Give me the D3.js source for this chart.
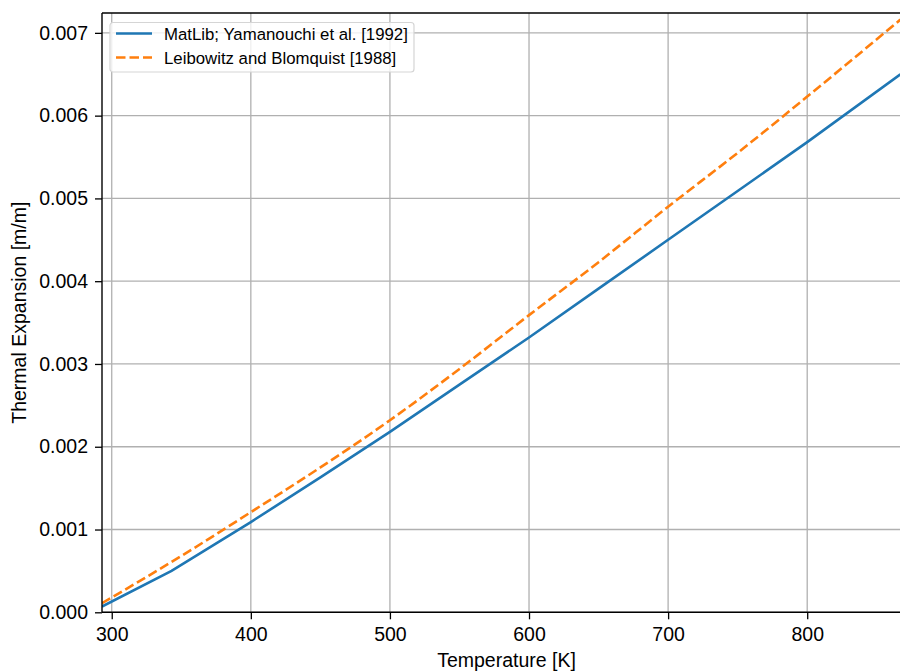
<!DOCTYPE html>
<html>
<head>
<meta charset="utf-8">
<script src="https://cdn.jsdelivr.net/npm/d3@7"></script>
<style>
  body { margin: 0; background: #fff; }
  text { font-family: "Liberation Sans", Arial, sans-serif; }
</style>
</head>
<body>
<div id="chart"></div>
<script>
  // temperatures [K] and thermal expansion [m/m]
  var matlibT = [293, 343, 400, 450, 500, 550, 600, 650, 700, 750, 800, 867];
  var matlibE = [0.00007, 0.0005, 0.00109, 0.00163, 0.00218, 0.00275, 0.00332, 0.00391, 0.0045, 0.00509, 0.00568, 0.0065];

  var leibT = [293, 350, 400, 450, 500, 550, 600, 650, 700, 750, 800, 867];
  var leibE = [0.00011, 0.00068, 0.00121, 0.00175, 0.00232, 0.00294, 0.00359, 0.00423, 0.0049, 0.00555, 0.00623, 0.00716];

  var xTicks = [300, 400, 500, 600, 700, 800];
  var yTicks = [0, 0.001, 0.002, 0.003, 0.004, 0.005, 0.006, 0.007];

  var seriesNames = ["MatLib; Yamanouchi et al. [1992]", "Leibowitz and Blomquist [1988]"];
  var seriesColors = ["#1f77b4", "#ff7f0e"];

  var w = 900, h = 671;
  var padL = 102, padT = 13, padB = 612.3, padR = 900.4;

  var svg = d3.select("#chart").append("svg")
      .attr("width", w).attr("height", h);

  var xScale = d3.scaleLinear().domain([293, 867]).range([padL, padR]);
  var yScale = d3.scaleLinear().domain([0, 0.00724]).range([padB, padT]);

  svg.append("clipPath").attr("id", "clip")
    .append("rect").attr("x", padL).attr("y", padT)
    .attr("width", padR - padL).attr("height", padB - padT);

  // grid
  var grid = svg.append("g");
  grid.selectAll(".gx").data(xTicks).enter().append("line")
    .attr("x1", d => xScale(d)).attr("x2", d => xScale(d))
    .attr("y1", padT).attr("y2", padB)
    .attr("stroke", "#b0b0b0").attr("stroke-width", 1.3);
  grid.selectAll(".gy").data(yTicks).enter().append("line")
    .attr("x1", padL).attr("x2", padR)
    .attr("y1", d => yScale(d)).attr("y2", d => yScale(d))
    .attr("stroke", "#b0b0b0").attr("stroke-width", 1.3);

  // lines
  var lineA = d3.line()
    .x((d, i) => xScale(matlibT[i]))
    .y(d => yScale(d));
  var lineB = d3.line()
    .x((d, i) => xScale(leibT[i]))
    .y(d => yScale(d))
    .curve(d3.curveMonotoneX);

  var plot = svg.append("g").attr("clip-path", "url(#clip)");
  plot.append("path").datum(matlibE)
    .attr("d", lineA).attr("fill", "none")
    .attr("stroke", seriesColors[0]).attr("stroke-width", 2.6);
  plot.append("path").datum(leibE)
    .attr("d", lineB).attr("fill", "none")
    .attr("stroke", seriesColors[1]).attr("stroke-width", 2.6)
    .attr("stroke-dasharray", "9.5,4");

  // axes
  var xAxis = d3.axisBottom(xScale).tickValues(xTicks).tickSize(7).tickPadding(8)
    .tickFormat(d3.format("d"));
  var yAxis = d3.axisLeft(yScale).tickValues(yTicks).tickSize(7).tickPadding(7)
    .tickFormat(d3.format(".3f"));

  var gx = svg.append("g").attr("transform", "translate(0," + padB + ")").call(xAxis);
  var gy = svg.append("g").attr("transform", "translate(" + padL + ",0)").call(yAxis);
  [gx, gy].forEach(function(g) {
    g.select(".domain").remove();
    g.selectAll(".tick line").attr("stroke", "#000").attr("stroke-width", 1.3);
    g.selectAll(".tick text").attr("fill", "#000").style("font-size", "19.5px")
      .style("font-family", "'Liberation Sans', Arial, sans-serif");
  });

  // spines
  svg.append("line").attr("x1", padL).attr("x2", padL).attr("y1", padT).attr("y2", padB)
    .attr("stroke", "#000").attr("stroke-width", 1.4);
  svg.append("line").attr("x1", padL).attr("x2", padR).attr("y1", padB).attr("y2", padB)
    .attr("stroke", "#000").attr("stroke-width", 1.4);
  svg.append("line").attr("x1", padL).attr("x2", padR).attr("y1", padT).attr("y2", padT)
    .attr("stroke", "#000").attr("stroke-width", 1.4);

  // axis labels
  svg.append("text").attr("x", 506.5).attr("y", 667)
    .attr("text-anchor", "middle").style("font-size", "19.5px")
    .text("Temperature [K]");
  svg.append("text")
    .attr("transform", "translate(26," + ((padT + padB) / 2) + ") rotate(-90)")
    .attr("text-anchor", "middle").style("font-size", "19.5px")
    .text("Thermal Expansion [m/m]");

  // legend
  var lg = svg.append("g").attr("transform", "translate(110,22.5)");
  lg.append("rect").attr("width", 304).attr("height", 49.5).attr("rx", 3)
    .attr("fill", "#fff").attr("fill-opacity", 0.8)
    .attr("stroke", "#d5d5d5").attr("stroke-width", 1.2);
  var item = lg.selectAll(".item").data(seriesNames).enter().append("g")
    .attr("transform", (d, i) => "translate(0," + (11 + i * 24) + ")");
  item.append("line").attr("x1", 6).attr("x2", 42).attr("y1", 0).attr("y2", 0)
    .attr("stroke", (d, i) => seriesColors[i]).attr("stroke-width", 2.6)
    .attr("stroke-dasharray", (d, i) => i === 1 ? "9.5,4" : null);
  item.append("text").attr("x", 54).attr("y", 6)
    .style("font-size", "16.8px").text(d => d);
</script>
</body>
</html>
